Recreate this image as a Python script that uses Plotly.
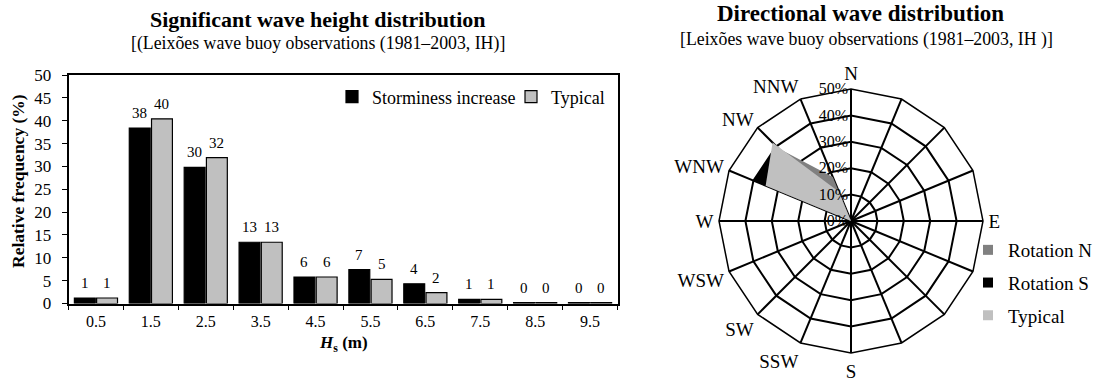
import plotly.graph_objects as go

W, H = 1097, 383

# ---- data: significant wave height distribution ----
hs_classes = ["0.5", "1.5", "2.5", "3.5", "4.5", "5.5", "6.5", "7.5", "8.5", "9.5"]
storminess = [1.2, 38.4, 29.8, 13.4, 5.8, 7.4, 4.3, 0.9, 0.2, 0.2]
typical_hs = [1.2, 40.4, 31.9, 13.4, 5.8, 5.3, 2.4, 0.9, 0.2, 0.2]
y_ticks = [0, 5, 10, 15, 20, 25, 30, 35, 40, 45, 50]

# ---- data: directional wave distribution (%) ----
directions = ["N", "NNE", "NE", "ENE", "E", "ESE", "SE", "SSE",
              "S", "SSW", "SW", "WSW", "W", "WNW", "NW", "NNW"]
dir_labels = ["N", " ", " ", " ", "E", " ", " ", " ",
              "S", "SSW", "SW", "WSW", "W", "WNW", "NW", "NNW"]
rotation_n = [0, 0, 0, 0, 0, 0, 0, 0, 0, 0, 0, 0, 0, 30, 39, 18]
rotation_s = [0, 0, 0, 0, 0, 0, 0, 0, 0, 0, 0, 0, 0, 40, 40, 8]
typical_dir = [0, 0, 0, 0, 0, 0, 0, 0, 0, 0, 0, 0, 0, 35, 42, 12]
r_ticks = [0, 10, 20, 30, 40, 50]

FONT = "Liberation Serif"
DIR_COLORS = {"Rotation N": "#808080", "Rotation S": "black", "Typical": "#c0c0c0"}


def px(x):
    return x / W


def py(y):
    return 1 - y / H


fig = go.Figure()

fig.add_trace(go.Bar(
    x=hs_classes, y=storminess, name="Storminess increase",
    marker=dict(color="black", line=dict(color="black", width=1.2)),
    legend="legend",
))
fig.add_trace(go.Bar(
    x=hs_classes, y=typical_hs, name="Typical",
    marker=dict(color="#c0c0c0", line=dict(color="black", width=1.2)),
    legend="legend",
))

for name, vals in [("Rotation N", rotation_n),
                   ("Rotation S", rotation_s),
                   ("Typical", typical_dir)]:
    col = DIR_COLORS[name]
    fig.add_trace(go.Scatterpolar(
        r=vals + vals[:1], theta=directions + directions[:1],
        mode="lines", fill="toself", fillcolor=col,
        line=dict(color=col, width=0), name=name, showlegend=False,
    ))
    # legend swatch (no data points)
    fig.add_trace(go.Scatter(
        x=[None], y=[None], mode="markers", name=name,
        marker=dict(symbol="square", size=10, color=col),
        legend="legend2", legendgroup=name, hoverinfo="skip",
    ))

fig.update_layout(
    width=W, height=H,
    margin=dict(l=0, r=0, t=0, b=0, autoexpand=False),
    paper_bgcolor="white", plot_bgcolor="white",
    font=dict(family=FONT, color="black"),
    barmode="group", bargap=0.19, bargroupgap=0.06,
    xaxis=dict(
        domain=[px(68.5), px(617.5)], type="category",
        showline=True, linecolor="black", linewidth=1.5, mirror=True,
        ticks="outside", ticklen=5, tickcolor="black", tickwidth=1.2,
        tickson="boundaries", showgrid=False, ticklabelstandoff=3,
        tickfont=dict(family=FONT, size=16, color="black"),
    ),
    yaxis=dict(
        domain=[py(303.5), py(75)], range=[0, 50],
        tickvals=y_ticks,
        showline=True, linecolor="black", linewidth=1.5, mirror=True,
        ticks="outside", ticklen=5, tickcolor="black", tickwidth=1.2,
        showgrid=False, zeroline=False, ticklabelstandoff=7,
        tickfont=dict(family=FONT, size=17, color="black"),
    ),
    legend=dict(
        orientation="h", x=px(332), y=py(97), xanchor="left", yanchor="middle",
        font=dict(family=FONT, size=18, color="black"),
        bgcolor="rgba(0,0,0,0)", itemwidth=30,
        entrywidth=134, entrywidthmode="pixels",
    ),
    legend2=dict(
        orientation="v", x=px(968), y=py(283), xanchor="left", yanchor="middle",
        font=dict(family=FONT, size=19, color="black"),
        bgcolor="rgba(0,0,0,0)", tracegroupgap=5, itemwidth=30,
    ),
    polar=dict(
        domain=dict(x=[px(719), px(983)], y=[py(353), py(89)]),
        bgcolor="white",
        gridshape="linear",
        angularaxis=dict(
            type="category", categoryarray=directions,
            rotation=90, direction="clockwise",
            tickmode="array", tickvals=directions, ticktext=dir_labels,
            showline=True, linecolor="black", linewidth=1.5,
            showgrid=True, gridcolor="black", gridwidth=1.5,
            ticks="outside", ticklen=1, tickcolor="rgba(0,0,0,0)",
            tickfont=dict(family=FONT, size=19, color="black"),
        ),
        radialaxis=dict(
            range=[0, 50], tickmode="array", tickvals=r_ticks,
            ticktext=[f"{v}%" for v in r_ticks],
            angle=90, tickangle=90, side="counterclockwise",
            showline=False, showgrid=True, gridcolor="black", gridwidth=1.5,
            ticks="", tickfont=dict(family=FONT, size=16, color="black"),
        ),
    ),
    showlegend=True,
)

annotations = [
    dict(text="<b>Significant wave height distribution</b>", x=px(318), y=py(19),
         font=dict(family=FONT, size=22, color="black")),
    dict(text="[(Leixões wave buoy observations (1981–2003, IH)]", x=px(318), y=py(43),
         font=dict(family=FONT, size=17.8, color="black")),
    dict(text="<b>Directional wave distribution</b>", x=px(860), y=py(14),
         font=dict(family=FONT, size=23, color="black")),
    dict(text="[Leixões wave buoy observations (1981–2003, IH )]", x=px(866), y=py(39.5),
         font=dict(family=FONT, size=17.8, color="black")),
    dict(text="<b>Relative frequency (%)</b>", x=px(18), y=py(181), textangle=-90,
         font=dict(family=FONT, size=17.5, color="black")),
    dict(text="<b><i>H</i><sub>s</sub> (m)</b>", x=px(343), y=py(344),
         font=dict(family=FONT, size=17, color="black")),
]
for a in annotations:
    a.update(xref="paper", yref="paper", showarrow=False, xanchor="center", yanchor="middle")

# value labels above the bars, taken from the series (x = category index)
for vals, shift in [(storminess, -11.1), (typical_hs, 11.1)]:
    for i, v in enumerate(vals):
        annotations.append(dict(
            text=f"{v:.0f}", x=i, y=v, xref="x", yref="y",
            xshift=shift, yshift=15, showarrow=False,
            xanchor="center", yanchor="middle",
            font=dict(family=FONT, size=15, color="black"),
        ))

fig.update_layout(annotations=annotations)

fig.write_html("out.html")
